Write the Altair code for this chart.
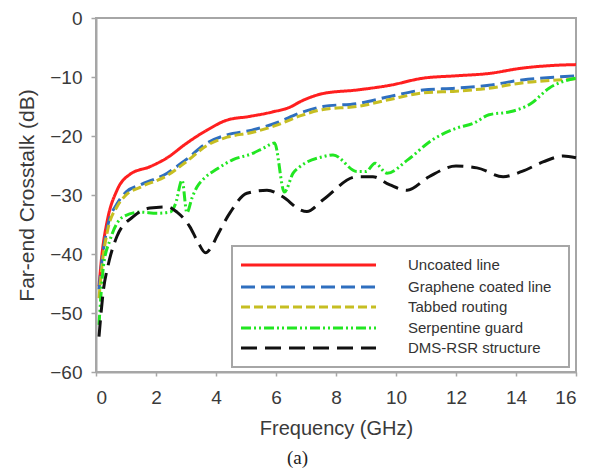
import altair as alt
import pandas as pd

series = ["Uncoated line", "Graphene coated line", "Tabbed routing",
          "Serpentine guard", "DMS-RSR structure"]
colors = ["#ff1f1f", "#2f6fbf", "#c6be22", "#22e622", "#111111"]
dashes = [[1, 0], [14, 6], [9, 4], [10, 3, 2, 3, 2, 3], [16, 8]]

uncoated_f = [0.1, 0.2, 0.37, 0.7, 1.13, 1.8, 2.37, 3.0, 3.7, 4.37, 5.1,
              5.9, 6.47, 6.8, 7.57, 8.7, 9.8, 10.9, 12.0, 13.1, 14.2, 15.4, 16.0]
uncoated_db = [-45.5, -40, -34.5, -29.2, -26.5, -25.2, -23.7, -21.3, -19, -17.3, -16.7,
               -15.9, -15.1, -14.2, -12.8, -12.2, -11.4, -10.2, -9.8, -9.4, -8.5, -8.0, -7.9]

graphene_f = [0.1, 0.2, 0.4, 0.7, 1.0, 1.47, 2.37, 3.0, 3.7, 4.37, 5.2, 6.0, 6.8,
              7.57, 8.7, 9.8, 10.9, 12.0, 13.1, 14.2, 15.4, 16.0]
graphene_db = [-46, -41, -35, -31.5, -29.5, -28.3, -26.3, -24, -21.2, -19.8, -19, -17.8, -16.1,
               -15.0, -14.5, -13.3, -12.2, -11.9, -11.4, -10.5, -10.0, -9.8]

tabbed_f = [0.1, 0.2, 0.4, 0.7, 1.0, 1.47, 2.37, 3.0, 3.7, 4.37, 5.2, 6.0, 6.8,
            7.57, 8.7, 9.8, 10.9, 12.0, 13.1, 14.2, 15.4, 16.0]
tabbed_db = [-47.5, -42, -35.7, -32, -30, -28.7, -26.7, -24.4, -21.6, -20.2, -19.4, -18.2, -16.6,
             -15.5, -15.0, -13.8, -12.7, -12.4, -11.9, -11.0, -10.5, -10.3]

serpentine_f = [0.1, 0.25, 0.47, 0.9, 1.47, 2.03, 2.47, 2.65, 2.87, 3.03, 3.2, 3.37, 3.6, 4.03,
                4.57, 5.2, 5.6, 5.95, 6.28, 6.57, 6.8, 7.57, 7.9, 8.7, 9.0, 9.3, 9.7,
                10.4, 11.2, 12.0, 12.6, 13.1, 13.8, 14.5, 15.1, 16.0]
serpentine_db = [-52, -42, -37.6, -33.7, -32.9, -33.1, -32.9, -31.5, -27.5, -33, -30.5, -28.6, -27.2, -25.6,
                 -24, -23, -22, -21.2, -29.5, -26.3, -25.2, -23.5, -23.2, -26, -26, -24.6, -26.3,
                 -24, -20.7, -18.7, -17.8, -16.4, -15.9, -14.5, -11.9, -10.2]

dms_f = [0.1, 0.25, 0.4, 0.7, 1.23, 1.8, 2.37, 2.7, 3.13, 3.4, 3.65, 3.85, 4.03, 4.47,
         5.03, 5.7, 6.23, 6.8, 7.03, 7.57, 8.7, 9.23, 9.8, 10.37, 11.1, 12.0, 12.7, 13.57,
         14.2, 14.9, 15.57, 16.0]
dms_db = [-54, -46, -42, -37, -33.7, -32.2, -32, -32.9, -35.4, -38, -39.8, -38.8, -37, -33,
          -29.7, -29.2, -30.3, -32.5, -32.8, -30.8, -26.9, -26.9, -28.3, -29.2, -26.9, -25.1, -25.4, -26.9,
          -26, -24.4, -23.4, -23.7]

x_ticks = [0, 2, 4, 6, 8, 10, 12, 14, 16]
y_ticks = [-60, -50, -40, -30, -20, -10, 0]

freqs = [uncoated_f, graphene_f, tabbed_f, serpentine_f, dms_f]
vals = [uncoated_db, graphene_db, tabbed_db, serpentine_db, dms_db]
rows = []
for i, (s, fs, vs) in enumerate(zip(series, freqs, vals)):
    for f, v in zip(fs, vs):
        rows.append({"series": s, "freq": f, "db": v, "idx": i})
df = pd.DataFrame(rows)

FONT = "Liberation Sans"
GRAY = "#a6a6a6"

lines = alt.Chart(df).mark_line(strokeWidth=3, interpolate="monotone").encode(
    x=alt.X("freq:Q", scale=alt.Scale(domain=[0, 16], nice=False),
            axis=alt.Axis(values=x_ticks, title="Frequency (GHz)", grid=False,
                          titleX=240, titleY=56, titleBaseline="middle")),
    y=alt.Y("db:Q", scale=alt.Scale(domain=[-60, 0], nice=False),
            axis=alt.Axis(values=y_ticks, title="Far-end Crosstalk (dB)", grid=False,
                          labelExpr="replace(datum.label, '-', '\u2212')",
                          titleX=-69, titleY=177, titleBaseline="middle", titleAngle=270)),
    color=alt.Color("series:N", scale=alt.Scale(domain=series, range=colors), legend=None),
    strokeDash=alt.StrokeDash("series:N", scale=alt.Scale(domain=series, range=dashes), legend=None),
    detail="series:N",
    order="freq:Q",
)

# legend (manual)
leg_df = pd.DataFrame({"series": series})
box = alt.Chart(leg_df).mark_rect(fill="white", stroke=GRAY, strokeWidth=2).encode(
    x=alt.value(136), x2=alt.value(473), y=alt.value(228), y2=alt.value(349))
layers = [lines, box]
row_y = [247, 269, 289, 310, 330]
for s, c, d, ry in zip(series, colors, dashes, row_y):
    sub = leg_df[leg_df.series == s]
    layers.append(alt.Chart(sub).mark_rule(color=c, strokeDash=d, strokeWidth=3).encode(
        x=alt.value(145), x2=alt.value(280), y=alt.value(ry)))
    layers.append(alt.Chart(sub).mark_text(align="left", baseline="middle", font=FONT,
                                           fontSize=15, color="#333333").encode(
        text="series:N", x=alt.value(312), y=alt.value(ry)))

cap = alt.Chart(pd.DataFrame({"t": ["(a)"]})).mark_text(
    font="Liberation Serif", fontSize=19, color="#222222", baseline="middle", align="center"
).encode(text="t:N", x=alt.value(201.5), y=alt.value(440))
layers.append(cap)

chart = alt.layer(*layers).properties(
    width=480, height=354,
    autosize=alt.AutoSizeParams(type="none"),
    padding={"left": 96, "top": 18, "right": 22, "bottom": 98},
    background="white",
).configure_view(stroke=GRAY, strokeWidth=2).configure_axis(
    domainColor=GRAY, domainWidth=2, tickColor=GRAY, tickWidth=1.5,
    labelFont=FONT, labelFontSize=19, labelColor="#3a3a3a",
    titleFont=FONT, titleFontSize=20, titleColor="#3a3a3a", titleFontWeight="normal",
).configure_axisX(tickSize=4, labelPadding=12).configure_axisY(
    tickSize=5, labelPadding=9, titleFontSize=21)

chart.save("out.html", embed_options={"renderer": "svg", "actions": False})
